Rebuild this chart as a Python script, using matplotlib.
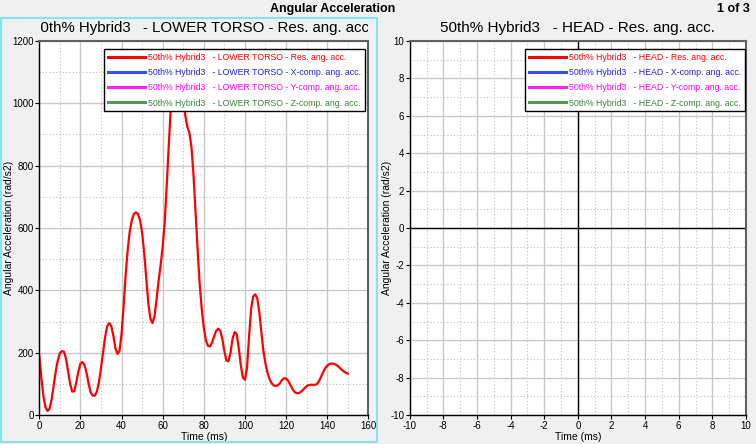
import matplotlib
matplotlib.use("Agg")
import matplotlib.pyplot as plt
from matplotlib.ticker import MultipleLocator
from matplotlib.transforms import Bbox, TransformedBbox
from matplotlib.patches import Rectangle
from matplotlib.lines import Line2D

plt.rcParams['font.family'] = ['Liberation Sans', 'DejaVu Sans']
plt.rcParams['axes.unicode_minus'] = False

# ---- data ----
time_ms = list(range(0, 151))
lower_torso_res = [
    191, 120, 60, 25, 13, 20, 50, 95, 140, 175,
    198, 205, 203, 180, 140, 100, 75, 76, 105, 140,
    165, 170, 160, 135, 100, 72, 62, 62, 75, 105,
    150, 200, 250, 285, 295, 285, 255, 215, 196, 205,
    260, 350, 450, 530, 590, 625, 645, 650, 645, 625,
    585, 520, 440, 360, 310, 295, 315, 370, 430, 480,
    540, 620, 740, 870, 990, 1080, 1140, 1168, 1160, 1115,
    1045, 960, 925, 905, 860, 770, 650, 530, 420, 340,
    280, 240, 222, 220, 232, 252, 270, 277, 270, 245,
    205, 175, 172, 200, 245, 266, 260, 215, 160, 120,
    113, 150, 250, 340, 380, 387, 375, 330, 265, 205,
    165, 135, 115, 102, 95, 93, 95, 102, 112, 118,
    117, 110, 98, 85, 75, 70, 70, 73, 79, 86,
    92, 96, 97, 97, 97, 99, 108, 122, 137, 150,
    158, 163, 165, 165, 162, 158, 152, 146, 140, 136,
    133,
]

left_title = "50th% Hybrid3   - LOWER TORSO - Res. ang. acc."
right_title = "50th% Hybrid3   - HEAD - Res. ang. acc."
left_legend = [
    "50th% Hybrid3   - LOWER TORSO - Res. ang. acc.",
    "50th% Hybrid3   - LOWER TORSO - X-comp. ang. acc.",
    "50th% Hybrid3   - LOWER TORSO - Y-comp. ang. acc.",
    "50th% Hybrid3   - LOWER TORSO - Z-comp. ang. acc.",
]
right_legend = [
    "50th% Hybrid3   - HEAD - Res. ang. acc.",
    "50th% Hybrid3   - HEAD - X-comp. ang. acc.",
    "50th% Hybrid3   - HEAD - Y-comp. ang. acc.",
    "50th% Hybrid3   - HEAD - Z-comp. ang. acc.",
]
line_colors = ['#ff0000', '#3050ff', '#ff20ff', '#5a965a']
text_colors = ['#ff0000', '#2020e0', '#ff00ff', '#3c8040']

# ---- figure ----
W, H = 756, 444
fig = plt.figure(figsize=(W / 100, H / 100), dpi=100, facecolor='#f0f0f0')


def px_axes(x0, x1, ytop, ybot):
    return fig.add_axes([x0 / W, 1 - ybot / H, (x1 - x0) / W, (ybot - ytop) / H])


def style_axes(ax, xmaj, xmin, ymaj, ymin):
    ax.set_facecolor('white')
    ax.xaxis.set_major_locator(MultipleLocator(xmaj))
    ax.xaxis.set_minor_locator(MultipleLocator(xmin))
    ax.yaxis.set_major_locator(MultipleLocator(ymaj))
    ax.yaxis.set_minor_locator(MultipleLocator(ymin))
    ax.grid(which='major', color='#c8c8c8', lw=1.0, ls='-')
    ax.grid(which='minor', color='#c0c0c0', lw=0.8, ls=(0, (1, 2)))
    ax.set_axisbelow(True)
    ax.tick_params(which='major', direction='out', length=3, width=0.8,
                   labelsize=7, pad=1, colors='black')
    ax.tick_params(which='minor', length=0)
    for s in ['left', 'bottom']:
        ax.spines[s].set_color('black')
        ax.spines[s].set_linewidth(1.0)
    for s in ['top', 'right']:
        ax.spines[s].set_color('#606060')
        ax.spines[s].set_linewidth(1.5)


def add_legend(ax, labels, anchor_x):
    handles = [Line2D([], [], color=c, lw=2.2) for c in line_colors]
    leg = ax.legend(handles, labels, loc='upper right', fontsize=6.3,
                    frameon=True, fancybox=False, edgecolor='black',
                    framealpha=1, handlelength=4.2, handletextpad=0.35,
                    labelspacing=0.7, borderpad=0.45, borderaxespad=0,
                    bbox_to_anchor=(anchor_x, 0.978), labelcolor=text_colors)
    leg.get_frame().set_linewidth(1.0)
    return leg


# cyan panel border around left plot
fig.patches.append(Rectangle((1 / W, 1 - 442 / H), 376 / W, 424 / H,
                             transform=fig.transFigure, fill=False,
                             edgecolor='#7fe6f0', lw=1.5))

# left axes
ax1 = px_axes(39.3, 368.3, 41, 415)
style_axes(ax1, 20, 10, 200, 100)
ax1.set_xlim(0, 160)
ax1.set_ylim(0, 1200)
ax1.plot(time_ms, lower_torso_res, color='#ff0000', lw=1.6)
ax1.set_xlabel('Time (ms)', fontsize=7.5, labelpad=1)
ax1.set_ylabel('Angular Acceleration (rad/s2)', fontsize=7.5)
ax1.yaxis.set_label_coords((14.5 - 39.3) / 329, 0.5)
add_legend(ax1, left_legend, (365 - 39.3) / 329)
t1 = ax1.text((32 - 39.3) / 329, 1.0 + 13 / 374, left_title,
              transform=ax1.transAxes, ha='left', va='center',
              fontsize=10.8, color='black')
t1.set_clip_on(True)
t1.set_clip_box(TransformedBbox(Bbox([[(39.8 - 39.3) / 329, 0.0], [1.0, 1.2]]),
                                ax1.transAxes))

# right axes
ax2 = px_axes(409.7, 746, 41, 415)
style_axes(ax2, 2, 1, 2, 1)
ax2.set_xlim(-10, 10)
ax2.set_ylim(-10, 10)
ax2.axhline(0, color='black', lw=1.0, zorder=1.5)
ax2.axvline(0, color='black', lw=1.0, zorder=1.5)
ax2.set_xlabel('Time (ms)', fontsize=7.5, labelpad=1)
ax2.set_ylabel('Angular Acceleration (rad/s2)', fontsize=7.5)
ax2.yaxis.set_label_coords((391.5 - 409.7) / 336.3, 0.5)
add_legend(ax2, right_legend, (745 - 409.7) / 336.3)
ax2.text(0.5, 1.0 + 13 / 374, right_title, transform=ax2.transAxes,
         ha='center', va='center', fontsize=11, color='black')

fig.text(333 / W, 1 - 9 / H, 'Angular Acceleration', ha='center', va='center',
         fontsize=9, fontweight='bold')
fig.text(750 / W, 1 - 9 / H, '1 of 3', ha='right', va='center',
         fontsize=9, fontweight='bold')

fig.savefig('out.png', dpi=100, facecolor=fig.get_facecolor())
